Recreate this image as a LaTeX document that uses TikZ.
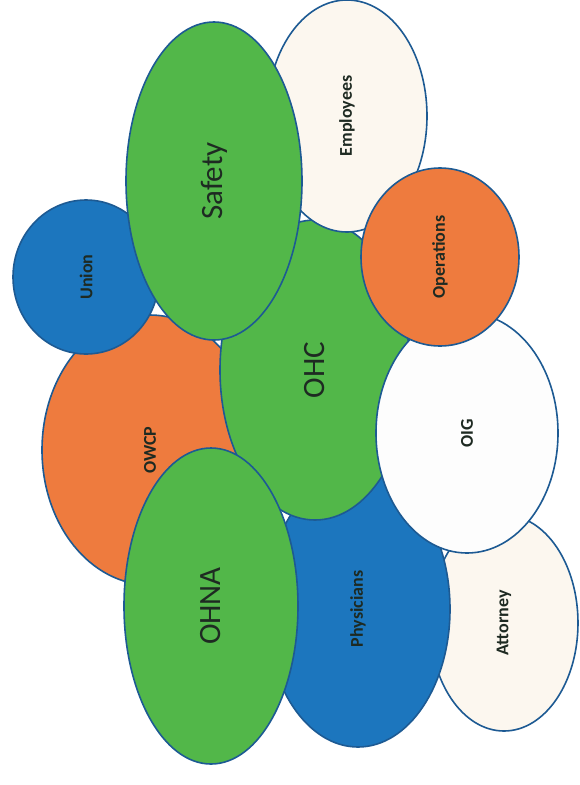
\documentclass[tikz,border=0pt]{standalone}
\usepackage{fontspec}
\setmainfont{Carlito}
\usetikzlibrary{shapes.geometric}
\definecolor{Leaf}{HTML}{52B749}
\definecolor{Tangerine}{HTML}{EE7B3E}
\definecolor{Sky}{HTML}{1C76BE}
\definecolor{Cream}{HTML}{FCF7EF}
\definecolor{Snow}{HTML}{FDFDFD}
\definecolor{Rim}{HTML}{1D5A93}
\definecolor{Ink}{HTML}{1E2A22}
\tikzset{
  blob/.style={ellipse,draw=Rim,line width=1.6pt,inner sep=0pt,rotate=90,text=Ink},
  smallblob/.style={blob,font=\fontsize{18}{22}\selectfont\bfseries},
  bigblob/.style={blob,font=\fontsize{31}{37}\selectfont},
}

\begin{document}
\begin{tikzpicture}[x=1pt,y=-1pt]
  \useasboundingbox (0,0) rectangle (579,785);

  % back row
  \node[smallblob,fill=Tangerine,minimum width=270pt,minimum height=216pt] (owcp) at (150,450) {OWCP};
  \node[smallblob,fill=Sky,minimum width=154pt,minimum height=146pt] (union) at (86,277) {Union};
  \node[smallblob,fill=Cream,minimum width=216pt,minimum height=148pt] (attorney) at (504,623) {Attorney};
  \node[smallblob,fill=Sky,minimum width=276pt,minimum height=184pt] (physicians) at (358,609) {Physicians};

  % middle
  \node[bigblob,fill=Leaf,minimum width=300pt,minimum height=190pt] (ohc) at (315,370) {OHC};
  \node[smallblob,fill=Cream,minimum width=232pt,minimum height=160pt] (employees) at (347,116) {Employees};
  \node[bigblob,fill=Leaf,minimum width=318pt,minimum height=176pt] (safety) at (214,181) {Safety};
  \node[bigblob,fill=Leaf,minimum width=316pt,minimum height=174pt] (ohna) at (211,606) {OHNA};

  % front
  \node[smallblob,fill=Snow,minimum width=240pt,minimum height=182pt] (oig) at (467,433) {OIG};
  \node[smallblob,fill=Tangerine,minimum width=178pt,minimum height=158pt] (operations) at (440,257) {Operations};
\end{tikzpicture}
\end{document}
